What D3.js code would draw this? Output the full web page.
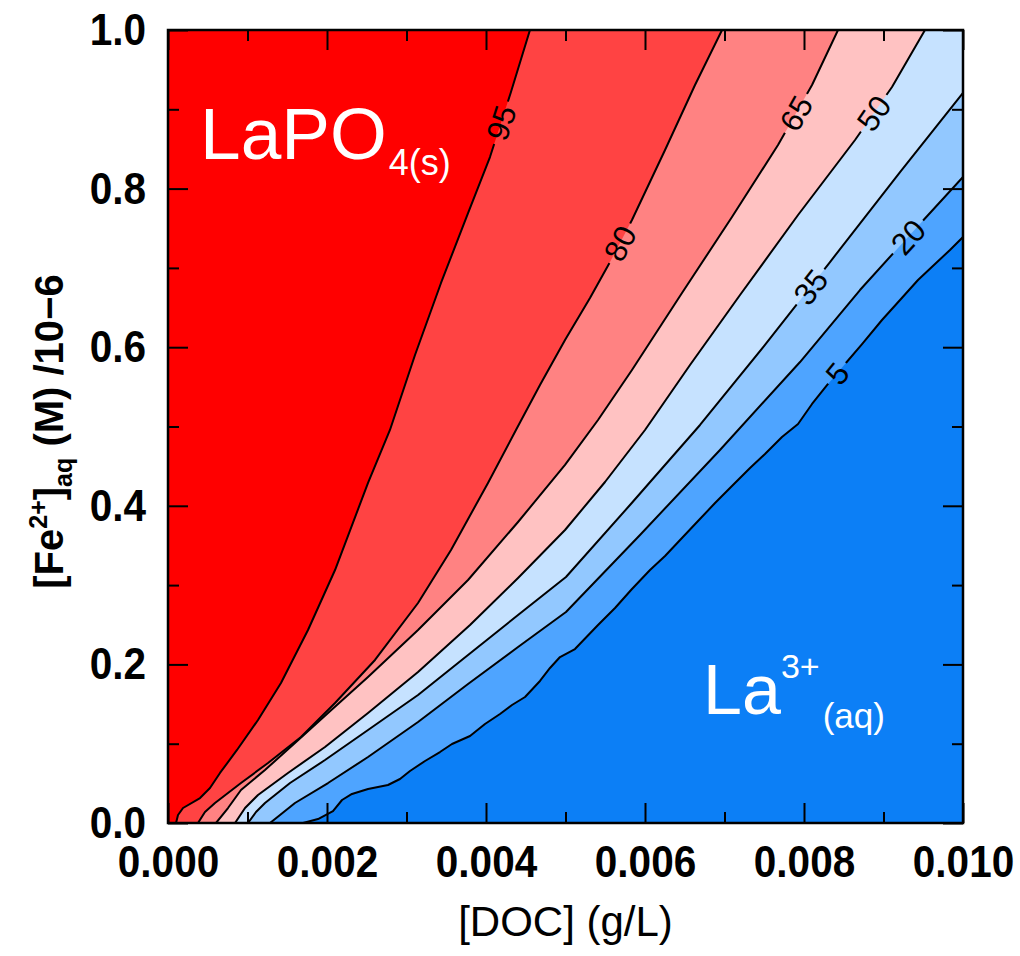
<!DOCTYPE html>
<html lang="en">
<head>
<meta charset="UTF-8">
<title>LaPO4(s) / La3+(aq) contour</title>
<script src="https://d3js.org/d3.v7.min.js"></script>
<style>
  body { margin: 0; background: #fff; }
  text { font-family: "Liberation Sans", Arial, Helvetica, sans-serif; }
</style>
</head>
<body>
<div id="chart"></div>
<script>
// contour levels (% La as LaPO4) and the fill of each band, from high to low
var levels = [95, 80, 65, 50, 35, 20, 5];
var bandColors = ["#ff0000", "#ff4343", "#ff8282", "#ffc2c2", "#c6e2ff", "#92c8ff", "#4ea4ff", "#0c7ff6"];

// contour lines: [DOC (g/L), Fe2+ (1e-6 M)], from the x axis upward
var c95 = [[0.000101,0],[0.000126,0.0101],[0.000189,0.0189],[0.000403,0.0315],[0.000528,0.0441],
  [0.000654,0.0631],[0.000868,0.0921],[0.001132,0.1299],[0.001421,0.1765],[0.001761,0.2434],
  [0.002101,0.3190],[0.002516,0.4288],[0.002792,0.4956],[0.003107,0.5902],[0.003434,0.6810],
  [0.003774,0.7692],[0.004050,0.8398],[0.004314,0.9218],[0.004553,1.0]];
var c80 = [[0.000377,0],[0.000465,0.0139],[0.000591,0.0252],[0.000918,0.0504],[0.001258,0.0757],
  [0.001673,0.1084],[0.002101,0.1513],[0.002604,0.2056],[0.003145,0.2774],[0.003560,0.3443],
  [0.004025,0.4288],[0.004377,0.4956],[0.004679,0.5523],[0.004994,0.6091],[0.005308,0.6620],
  [0.005560,0.7074],[0.005836,0.7604],[0.006252,0.8487],[0.006629,0.9306],[0.006969,1.0]];
var c65 = [[0.000604,0],[0.000755,0.0189],[0.000918,0.0416],[0.001220,0.0668],[0.001597,0.1009],
  [0.002013,0.1387],[0.002516,0.1841],[0.003145,0.2434],[0.003774,0.3064],[0.004403,0.3796],
  [0.004994,0.4515],[0.005409,0.5082],[0.005836,0.5713],[0.006465,0.6683],[0.007094,0.7642],
  [0.007673,0.8550],[0.008101,0.9307],[0.008428,1.0]];
var c50 = [[0.000843,0],[0.000969,0.0189],[0.001132,0.0353],[0.001509,0.0631],[0.001975,0.0958],
  [0.002516,0.1387],[0.003145,0.1904],[0.003799,0.2497],[0.004403,0.3090],[0.004994,0.3695],
  [0.005497,0.4300],[0.006000,0.4956],[0.006566,0.5776],[0.007195,0.6658],[0.007925,0.7667],
  [0.008642,0.8613],[0.009107,0.9281],[0.009522,1.0]];
var c35 = [[0.001006,0],[0.001107,0.0139],[0.001220,0.0252],[0.001535,0.0504],[0.001975,0.0794],
  [0.002516,0.1173],[0.003145,0.1614],[0.003774,0.2119],[0.004403,0.2623],[0.005006,0.3102],
  [0.005811,0.4010],[0.006692,0.5019],[0.007509,0.6028],[0.008327,0.7074],[0.009208,0.8209],
  [0.010000,0.9206]];
var c20 = [[0.001283,0],[0.001409,0.0101],[0.001597,0.0252],[0.002013,0.0504],[0.002516,0.0832],
  [0.003145,0.1274],[0.003774,0.1753],[0.004403,0.2219],[0.005006,0.2661],[0.005937,0.3632],
  [0.006943,0.4704],[0.007950,0.5813],[0.008704,0.6721],[0.009308,0.7390],[0.010000,0.8146]];
var c5 = [[0.001698,0],[0.001887,0.0050],[0.002075,0.0151],[0.002189,0.0290],[0.002314,0.0366],
  [0.002516,0.0429],[0.002767,0.0479],[0.002918,0.0555],[0.003044,0.0656],[0.003233,0.0782],
  [0.003421,0.0895],[0.003572,0.0996],[0.003799,0.1097],[0.003987,0.1248],[0.004176,0.1375],
  [0.004327,0.1488],[0.004491,0.1589],[0.004679,0.1791],[0.004805,0.1955],[0.004931,0.2093],
  [0.005119,0.2194],[0.005409,0.2497],[0.005623,0.2711],[0.005836,0.2951],[0.006063,0.3190],
  [0.006252,0.3367],[0.006465,0.3594],[0.006667,0.3808],[0.006881,0.4035],[0.007094,0.4250],
  [0.007321,0.4477],[0.007509,0.4653],[0.007723,0.4868],[0.007925,0.5032],[0.008101,0.5284],
  [0.008302,0.5536],[0.008516,0.5788],[0.008730,0.6040],[0.008981,0.6343],[0.009208,0.6595],
  [0.009434,0.6847],[0.009648,0.7049],[0.009836,0.7226],[0.010000,0.7390]];
var contourLines = [c95, c80, c65, c50, c35, c20, c5];

// height (Fe2+) at which each line carries its label
var labelY = [0.883, 0.731, 0.895, 0.895, 0.676, 0.739, 0.567];

var xMajor = [0, 0.002, 0.004, 0.006, 0.008, 0.010];
var xMinor = [0.001, 0.003, 0.005, 0.007, 0.009];
var yMajor = [0, 0.2, 0.4, 0.6, 0.8, 1.0];
var yMinor = [0.1, 0.3, 0.5, 0.7, 0.9];

var margin = {top: 30, right: 57, bottom: 133, left: 168};
var width = 1020 - margin.left - margin.right;
var height = 956 - margin.top - margin.bottom;

var svg = d3.select("#chart")
    .append("svg")
    .attr("width", 1020)
    .attr("height", 956);
var defs = svg.append("defs");
var g = svg.append("g")
    .attr("transform", "translate(" + margin.left + "," + margin.top + ")");

var x = d3.scaleLinear().domain([0, 0.01]).range([0, width]);
var y = d3.scaleLinear().domain([0, 1]).range([height, 0]);

defs.append("clipPath").attr("id", "plotClip")
    .append("rect").attr("width", width).attr("height", height);

var plot = g.append("g").attr("clip-path", "url(#plotClip)");

// background = highest band
plot.append("rect")
    .attr("width", width).attr("height", height)
    .attr("fill", bandColors[0]);

// each line closes down/right to the corners; paint from high to low level
var line = d3.line().x(function(d) { return x(d[0]); }).y(function(d) { return y(d[1]); });
contourLines.forEach(function(pts, i) {
    var last = pts[pts.length - 1];
    var poly = pts.slice();
    if (last[1] >= 1) poly.push([0.01, 1]);
    poly.push([0.01, 0]);
    plot.append("path")
        .attr("d", line(poly) + "Z")
        .attr("fill", bandColors[i + 1]);
});

// find a point on a line at given height
function pointAt(pts, ly) {
    for (var k = 0; k < pts.length - 1; k++) {
        var a = pts[k], b = pts[k + 1];
        if (ly >= a[1] && ly <= b[1]) {
            var t = (ly - a[1]) / (b[1] - a[1]);
            return [x(a[0] + t * (b[0] - a[0])), y(ly)];
        }
    }
    return [x(pts[pts.length - 1][0]), y(pts[pts.length - 1][1])];
}

var labelSize = 31;
var labels = levels.map(function(lv, i) {
    var p = pointAt(contourLines[i], labelY[i]);
    var p0 = pointAt(contourLines[i], labelY[i] - 0.04);
    var p1 = pointAt(contourLines[i], labelY[i] + 0.04);
    var ang = Math.atan2(p1[1] - p0[1], p1[0] - p0[0]) * 180 / Math.PI;
    return {text: String(lv), x: p[0], y: p[1], ang: ang};
});

// mask that cuts the lines where the labels sit
var mask = defs.append("mask").attr("id", "labelMask")
    .attr("maskUnits", "userSpaceOnUse")
    .attr("x", -10).attr("y", -10).attr("width", width + 20).attr("height", height + 20);
mask.append("rect").attr("x", -10).attr("y", -10)
    .attr("width", width + 20).attr("height", height + 20).attr("fill", "white");
labels.forEach(function(l) {
    var w = l.text.length * labelSize * 0.56 + 10;
    mask.append("rect")
        .attr("x", -w / 2).attr("y", -labelSize * 0.42)
        .attr("width", w).attr("height", labelSize * 0.84)
        .attr("fill", "black")
        .attr("transform", "translate(" + l.x + "," + l.y + ") rotate(" + l.ang + ")");
});

plot.append("g")
    .attr("mask", "url(#labelMask)")
    .selectAll("path")
    .data(contourLines)
    .enter()
    .append("path")
        .attr("d", line)
        .attr("fill", "none")
        .attr("stroke", "#000")
        .attr("stroke-width", 2)
        .attr("stroke-linejoin", "round");

plot.selectAll(".clabel")
    .data(labels)
    .enter()
    .append("text")
        .attr("class", "clabel")
        .attr("transform", function(d) { return "translate(" + d.x + "," + d.y + ") rotate(" + d.ang + ")"; })
        .attr("text-anchor", "middle")
        .attr("dy", "0.36em")
        .style("font-size", labelSize + "px")
        .attr("fill", "#000")
        .text(function(d) { return d.text; });

// region names
var t1 = g.append("text")
    .attr("x", x(0.000403)).attr("y", y(0.837))
    .attr("fill", "#fff")
    .style("font-size", "73px")
    .text("LaPO");
t1.append("tspan").attr("dx", 2).attr("dy", 16).style("font-size", "36px").text("4(s)");

var t2 = g.append("text")
    .attr("x", x(0.00673)).attr("y", y(0.138))
    .attr("fill", "#fff")
    .style("font-size", "70px")
    .text("La");
t2.append("tspan").attr("dy", -36).style("font-size", "34px").text("3+");
t2.append("tspan").attr("dx", 3).attr("dy", 50).style("font-size", "35px").text("(aq)");

// axes: inward ticks on all four sides, labels only bottom/left
var squeeze = 0.9;
function styleAxis(sel) {
    sel.select(".domain").remove();
    sel.selectAll(".tick line").attr("stroke", "#000").attr("stroke-width", 2);
    sel.attr("font-family", "Liberation Sans, Arial, sans-serif")
       .attr("font-size", 45)
       .attr("font-weight", "bold");
    sel.selectAll(".tick text").attr("fill", "#000");
}

g.append("g").attr("transform", "translate(0," + height + ")")
    .call(d3.axisBottom(x).tickValues(xMajor).tickFormat(d3.format(".3f"))
        .tickSizeInner(-20).tickSizeOuter(0).tickPadding(22))
    .call(styleAxis)
    .selectAll(".tick text").attr("transform", "scale(" + squeeze + ",1)");
g.append("g").attr("transform", "translate(0," + height + ")")
    .call(d3.axisBottom(x).tickValues(xMinor).tickFormat("").tickSizeInner(-11).tickSizeOuter(0))
    .call(styleAxis);
g.append("g")
    .call(d3.axisTop(x).tickValues(xMajor).tickFormat("").tickSizeInner(-20).tickSizeOuter(0))
    .call(styleAxis);
g.append("g")
    .call(d3.axisTop(x).tickValues(xMinor).tickFormat("").tickSizeInner(-11).tickSizeOuter(0))
    .call(styleAxis);

g.append("g")
    .call(d3.axisLeft(y).tickValues(yMajor).tickFormat(d3.format(".1f"))
        .tickSizeInner(-20).tickSizeOuter(0).tickPadding(22))
    .call(styleAxis)
    .selectAll(".tick text")
        .attr("x", -22 / squeeze)
        .attr("transform", "scale(" + squeeze + ",1)");
g.append("g")
    .call(d3.axisLeft(y).tickValues(yMinor).tickFormat("").tickSizeInner(-11).tickSizeOuter(0))
    .call(styleAxis);
g.append("g").attr("transform", "translate(" + width + ",0)")
    .call(d3.axisRight(y).tickValues(yMajor).tickFormat("").tickSizeInner(-20).tickSizeOuter(0))
    .call(styleAxis);
g.append("g").attr("transform", "translate(" + width + ",0)")
    .call(d3.axisRight(y).tickValues(yMinor).tickFormat("").tickSizeInner(-11).tickSizeOuter(0))
    .call(styleAxis);

// frame
g.append("rect")
    .attr("width", width).attr("height", height)
    .attr("fill", "none")
    .attr("stroke", "#000")
    .attr("stroke-width", 2.5);

// axis titles
g.append("text")
    .attr("x", width / 2)
    .attr("y", height + 113)
    .attr("text-anchor", "middle")
    .style("font-size", "42px")
    .attr("fill", "#000")
    .text("[DOC] (g/L)");

var yt = svg.append("text")
    .attr("transform", "translate(63," + (margin.top + height / 2 + 5) + ") rotate(-90)")
    .attr("text-anchor", "middle")
    .style("font-size", "40px")
    .style("font-weight", "bold")
    .attr("fill", "#000")
    .text("[Fe");
yt.append("tspan").attr("dy", -16).style("font-size", "25px").text("2+");
yt.append("tspan").attr("dy", 16).text("]");
yt.append("tspan").attr("dy", 9).style("font-size", "25px").text("aq");
yt.append("tspan").attr("dy", -9).text(" (M) /10\u22126");
</script>
</body>
</html>
